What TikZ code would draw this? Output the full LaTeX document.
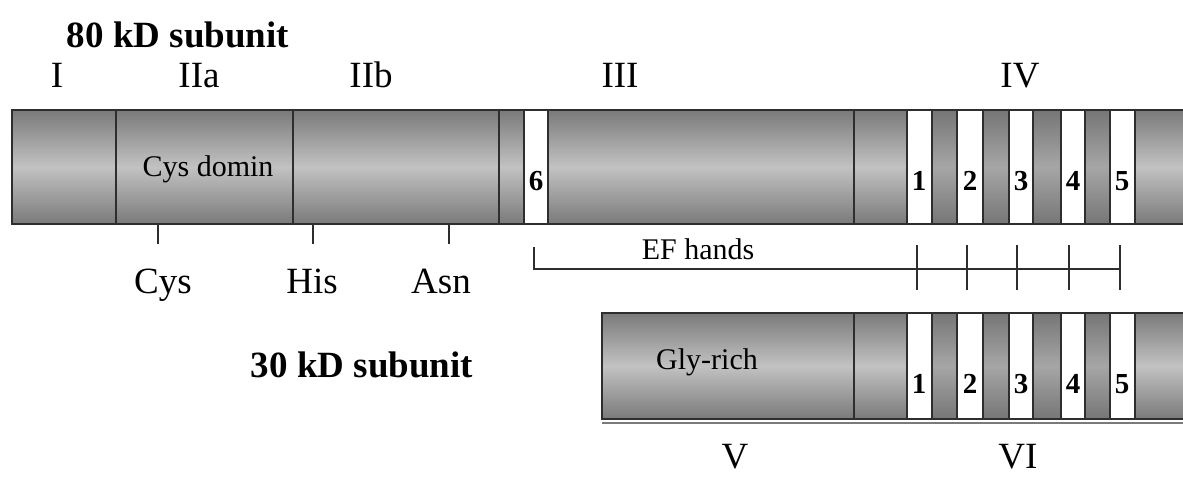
\documentclass[tikz,border=0pt]{standalone}
\usepackage{fontspec}
\setmainfont{Liberation Serif}
\definecolor{gedge}{HTML}{7A7A7A}
\definecolor{gmid}{HTML}{C2C2C2}
\definecolor{dedge}{HTML}{767676}
\definecolor{dmid}{HTML}{A6A6A6}
\definecolor{lineclr}{HTML}{2E2E2E}
\begin{document}
\begin{tikzpicture}[x=1pt,y=-1pt,
  grayseg/.style={draw=lineclr,line width=1.1pt,top color=gedge,bottom color=gedge,middle color=gmid},
  darkseg/.style={draw=lineclr,line width=1.1pt,top color=dedge,bottom color=dedge,middle color=dmid},
  whiteseg/.style={draw=lineclr,line width=1.1pt,fill=white},
  outline/.style={draw=lineclr,line width=2pt},
  lbl/.style={inner sep=0pt,anchor=base,font=\fontsize{37}{40}\selectfont},
  blbl/.style={inner sep=0pt,anchor=base,font=\fontsize{37}{40}\selectfont\bfseries},
  inlbl/.style={inner sep=0pt,anchor=base,font=\fontsize{30}{32}\selectfont},
  numlbl/.style={inner sep=0pt,anchor=base,font=\fontsize{29}{31}\selectfont\bfseries},
  tick/.style={draw=lineclr,line width=1.2pt}]
\useasboundingbox (0,0) rectangle (1183,495);
\clip (0,0) rectangle (1183,495);
\fill[white] (0,0) rectangle (1183,495);

% ---------- 80 kD subunit bar ----------
\path[grayseg] (12,110) rectangle (116,224);
\path[grayseg] (116,110) rectangle (293,224);
\path[grayseg] (293,110) rectangle (499,224);
\path[grayseg] (499,110) rectangle (524,224);
\path[whiteseg] (524,110) rectangle (548,224);
\path[grayseg] (548,110) rectangle (854,224);
\path[grayseg] (854,110) rectangle (907,224);
\path[whiteseg] (907,110) rectangle (932,224);
\path[darkseg] (932,110) rectangle (957,224);
\path[whiteseg] (957,110) rectangle (983,224);
\path[darkseg] (983,110) rectangle (1009,224);
\path[whiteseg] (1009,110) rectangle (1033,224);
\path[darkseg] (1033,110) rectangle (1061,224);
\path[whiteseg] (1061,110) rectangle (1085,224);
\path[darkseg] (1085,110) rectangle (1110,224);
\path[whiteseg] (1110,110) rectangle (1135,224);
\path[grayseg] (1135,110) rectangle (1195,224);
\draw[outline] (1195,110) -- (12,110) -- (12,224) -- (1195,224);

% ---------- 30 kD subunit bar ----------
\draw[draw=gedge,line width=1.5pt] (602,423) -- (1195,423);
\path[grayseg] (602,313) rectangle (854,419);
\path[grayseg] (854,313) rectangle (907,419);
\path[whiteseg] (907,313) rectangle (932,419);
\path[darkseg] (932,313) rectangle (957,419);
\path[whiteseg] (957,313) rectangle (983,419);
\path[darkseg] (983,313) rectangle (1009,419);
\path[whiteseg] (1009,313) rectangle (1033,419);
\path[darkseg] (1033,313) rectangle (1061,419);
\path[whiteseg] (1061,313) rectangle (1085,419);
\path[darkseg] (1085,313) rectangle (1110,419);
\path[whiteseg] (1110,313) rectangle (1135,419);
\path[grayseg] (1135,313) rectangle (1195,419);
\draw[outline] (1195,313) -- (602,313) -- (602,419) -- (1195,419);

% ---------- titles and domain labels ----------
\node[blbl] (t80) at (178,48) {80 kD subunit};
\node[blbl] (t30) at (362,377) {30 kD subunit};
\node[lbl] (dI) at (57,88) {I};
\node[lbl] (dIIa) at (199,88) {IIa};
\node[lbl] (dIIb) at (371,88) {IIb};
\node[lbl] (dIII) at (620,88) {III};
\node[lbl] (dIV) at (1020,88) {IV};
\node[lbl] (dV) at (735,468) {V};
\node[lbl] (dVI) at (1018,468) {VI};

% ---------- in-bar texts ----------
\node[inlbl] (cysdom) at (208,176) {Cys domin};
\node[inlbl] (gly) at (707,369) {Gly-rich};
\node[numlbl] (n6) at (536,190) {6};
\node[numlbl] (a1) at (919,190) {1};
\node[numlbl] (a2) at (970,190) {2};
\node[numlbl] (a3) at (1021,190) {3};
\node[numlbl] (a4) at (1073,190) {4};
\node[numlbl] (a5) at (1122,190) {5};
\node[numlbl] (b1) at (919,393) {1};
\node[numlbl] (b2) at (970,393) {2};
\node[numlbl] (b3) at (1021,393) {3};
\node[numlbl] (b4) at (1073,393) {4};
\node[numlbl] (b5) at (1122,393) {5};

% ---------- residue ticks ----------
\coordinate (cysT) at (158,224);
\coordinate (cysB) at (158,244);
\coordinate (hisT) at (313,224);
\coordinate (hisB) at (313,244);
\coordinate (asnT) at (449,224);
\coordinate (asnB) at (449,244);
\draw[tick] (cysT) -- (cysB);
\draw[tick] (hisT) -- (hisB);
\draw[tick] (asnT) -- (asnB);
\node[lbl] (cys) at (163,293) {Cys};
\node[lbl] (his) at (312,293) {His};
\node[lbl] (asn) at (441,293) {Asn};

% ---------- EF hands bracket ----------
\coordinate (efA) at (534,247);
\coordinate (efB) at (534,269);
\coordinate (efC) at (1120,269);
\draw[tick] (efA) -- (efB) -- (efC);
\foreach \x/\n in {917/e1,967/e2,1017/e3,1069/e4,1120/e5}{
  \coordinate (\n t) at (\x,245);
  \coordinate (\n b) at (\x,290);
  \draw[tick] (\n t) -- (\n b);
}
\node[inlbl] (ef) at (698,259) {EF hands};
\end{tikzpicture}
\end{document}
